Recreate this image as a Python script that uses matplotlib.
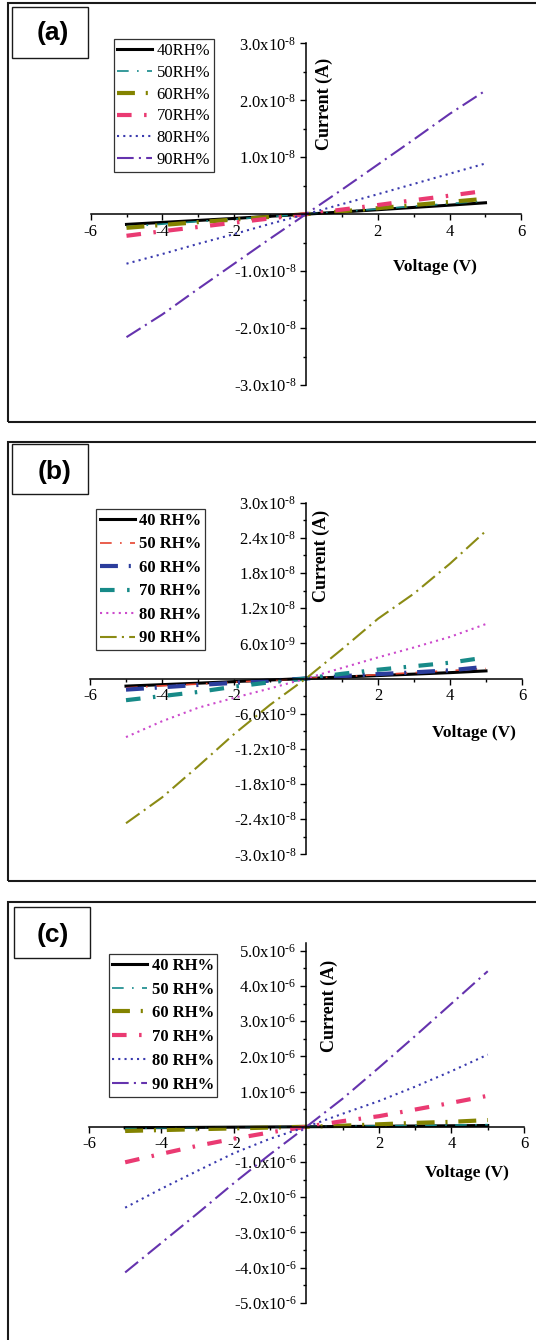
import matplotlib
import matplotlib.pyplot as plt
from matplotlib.patches import Rectangle
from matplotlib.ticker import FixedLocator

matplotlib.use("Agg")

plt.rcParams["font.family"] = ["Liberation Serif", "DejaVu Serif"]
plt.rcParams["mathtext.default"] = "regular"

W, H = 536, 1340

voltage = [-5, -4, -3, -2, -1, 0, 1, 2, 3, 4, 5]

# panel (a), current in 1e-8 A
a_40 = [-0.18, -0.145, -0.11, -0.075, -0.037, 0, 0.038, 0.078, 0.118, 0.158, 0.20]
a_50 = [-0.22, -0.175, -0.13, -0.088, -0.044, 0, 0.045, 0.09, 0.138, 0.185, 0.23]
a_60 = [-0.24, -0.19, -0.14, -0.095, -0.048, 0, 0.05, 0.105, 0.16, 0.215, 0.27]
a_70 = [-0.38, -0.30, -0.225, -0.15, -0.075, 0, 0.08, 0.16, 0.245, 0.325, 0.41]
a_80 = [-0.87, -0.70, -0.52, -0.35, -0.17, 0, 0.175, 0.35, 0.53, 0.71, 0.89]
a_90 = [-2.16, -1.76, -1.31, -0.87, -0.43, 0, 0.43, 0.87, 1.31, 1.76, 2.17]

# panel (b), current in 1e-8 A
b_40 = [-0.13, -0.105, -0.08, -0.053, -0.026, 0, 0.025, 0.05, 0.075, 0.10, 0.13]
b_50 = [-0.16, -0.125, -0.095, -0.063, -0.031, 0, 0.032, 0.065, 0.10, 0.135, 0.17]
b_60 = [-0.19, -0.15, -0.11, -0.075, -0.037, 0, 0.04, 0.075, 0.105, 0.14, 0.20]
b_70 = [-0.37, -0.30, -0.23, -0.14, -0.065, 0, 0.08, 0.15, 0.21, 0.27, 0.36]
b_80 = [-1.00, -0.73, -0.50, -0.33, -0.17, 0, 0.18, 0.36, 0.53, 0.71, 0.93]
b_90 = [-2.47, -2.03, -1.50, -0.95, -0.45, 0, 0.50, 1.02, 1.45, 1.96, 2.52]

# panel (c), current in 1e-6 A
c_40 = [-0.03, -0.024, -0.018, -0.012, -0.006, 0, 0.007, 0.014, 0.021, 0.028, 0.035]
c_50 = [-0.04, -0.032, -0.024, -0.016, -0.008, 0, 0.012, 0.024, 0.036, 0.048, 0.06]
c_60 = [-0.12, -0.095, -0.07, -0.047, -0.023, 0, 0.03, 0.07, 0.11, 0.14, 0.19]
c_70 = [-1.01, -0.77, -0.54, -0.34, -0.16, 0, 0.16, 0.30, 0.49, 0.68, 0.88]
c_80 = [-2.30, -1.76, -1.25, -0.75, -0.34, 0, 0.37, 0.73, 1.14, 1.58, 2.05]
c_90 = [-4.14, -3.30, -2.46, -1.60, -0.78, 0, 0.80, 1.68, 2.58, 3.50, 4.42]

labels_a = ["40RH%", "50RH%", "60RH%", "70RH%", "80RH%", "90RH%"]
labels_bc = ["40 RH%", "50 RH%", "60 RH%", "70 RH%", "80 RH%", "90 RH%"]

x_ticks = [-6, -4, -2, 2, 4, 6]
x_ticklabels = ["-6", "-4", "-2", "2", "4", "6"]
x_minor = [-5, -3, -1, 1, 3, 5]

# mantissa / exponent pairs for the y tick labels
a_yticks = [-3, -2, -1, 1, 2, 3]
a_ymant = ["-3.0", "-2.0", "-1.0", "1.0", "2.0", "3.0"]
a_yexp = ["-8", "-8", "-8", "-8", "-8", "-8"]
a_yminor = [-2.5, -1.5, -0.5, 0.5, 1.5, 2.5]

b_yticks = [-3.0, -2.4, -1.8, -1.2, -0.6, 0.6, 1.2, 1.8, 2.4, 3.0]
b_ymant = ["-3.0", "-2.4", "-1.8", "-1.2", "-6.0", "6.0", "1.2", "1.8", "2.4", "3.0"]
b_yexp = ["-8", "-8", "-8", "-8", "-9", "-9", "-8", "-8", "-8", "-8"]
b_yminor = [-2.7, -2.1, -1.5, -0.9, -0.3, 0.3, 0.9, 1.5, 2.1, 2.7]

c_yticks = [-5, -4, -3, -2, -1, 1, 2, 3, 4, 5]
c_ymant = ["-5.0", "-4.0", "-3.0", "-2.0", "-1.0", "1.0", "2.0", "3.0", "4.0", "5.0"]
c_yexp = ["-6"] * 10
c_yminor = [-4.5, -3.5, -2.5, -1.5, -0.5, 0.5, 1.5, 2.5, 3.5, 4.5]

style_ac = [
    ("black", 2.2, "-"),
    ("#14898a", 1.2, (0, (7, 5, 1, 5))),
    ("#838300", 3.0, (0, (4.3, 2.6, 0.5, 2.6))),
    ("#ea3a72", 3.0, (0, (3.5, 3, 0.6, 3))),
    ("#3a3aae", 1.5, (0, (1, 2))),
    ("#6533ae", 1.5, (0, (8, 2.5, 1, 2.5))),
]
style_b = [
    ("black", 2.2, "-"),
    ("#e5432f", 1.2, (0, (7, 5, 1, 5))),
    ("#2b3d9c", 3.0, (0, (4.3, 2.6, 0.5, 2.6))),
    ("#178a88", 3.0, (0, (3.5, 3, 0.6, 3))),
    ("#cc4acc", 1.5, (0, (1, 2))),
    ("#8b8b14", 1.5, (0, (8, 2.5, 1, 2.5))),
]


def px_rect(x0, y0, x1, y1):
    return [x0 / W, 1 - y1 / H, (x1 - x0) / W, (y1 - y0) / H]


def px(x, y):
    return x / W, 1 - y / H


def sci_label(mant, exp):
    # hyphen (U+2010) so the exponent keeps a short dash like the original
    return mant + "x10$^{" + exp.replace("-", "\u2010") + "}$"


fig = plt.figure(figsize=(W / 100, H / 100), dpi=100)


def draw_panel(rect, series, scale, styles, labels, bold, ylim,
               yticks, ymant, yexp, yminor, frame, tagbox, tag, tagpos,
               legpos, legspacing, xlabpos, ylabpos):
    # outer frame of the panel
    fx0, fy0, fx1, fy1 = frame
    fig.add_artist(Rectangle(px(fx0, fy1), (fx1 - fx0) / W, (fy1 - fy0) / H,
                             transform=fig.transFigure, fill=False,
                             edgecolor="#1a1a1a", linewidth=1.5))
    # label box
    tx0, ty0, tx1, ty1 = tagbox
    fig.add_artist(Rectangle(px(tx0, ty1), (tx1 - tx0) / W, (ty1 - ty0) / H,
                             transform=fig.transFigure, fill=False,
                             edgecolor="#1a1a1a", linewidth=1.0))
    fig.text(*px(*tagpos), tag, family="Liberation Sans", weight="bold",
             fontsize=19, ha="center", va="center")

    ax = fig.add_axes(rect)
    ax.patch.set_alpha(0)
    handles = []
    for vals, (color, lw, ls) in zip(series, styles):
        (ln,) = ax.plot(voltage, [v * scale for v in vals], color=color,
                        linewidth=lw, linestyle=ls)
        handles.append(ln)

    ax.set_xlim(-6, 6)
    ax.set_ylim(ylim[0] * scale, ylim[1] * scale)
    for side in ("top", "right"):
        ax.spines[side].set_visible(False)
    ax.spines["left"].set_position(("data", 0))
    ax.spines["bottom"].set_position(("data", 0))
    for side in ("left", "bottom"):
        ax.spines[side].set_linewidth(1.1)

    ax.xaxis.set_major_locator(FixedLocator(x_ticks))
    ax.set_xticklabels(x_ticklabels)
    ax.xaxis.set_minor_locator(FixedLocator(x_minor))
    ax.yaxis.set_major_locator(FixedLocator([t * scale for t in yticks]))
    ax.set_yticklabels([sci_label(m, e) for m, e in zip(ymant, yexp)])
    ax.yaxis.set_minor_locator(FixedLocator([t * scale for t in yminor]))
    ax.tick_params(which="major", direction="out", length=4, width=1,
                   labelsize=12, pad=3)
    ax.tick_params(which="minor", direction="out", length=2.5, width=1)

    weight = "bold" if bold else "normal"
    leg = ax.legend(handles, labels, loc="upper left",
                    bbox_to_anchor=px(*legpos), bbox_transform=fig.transFigure,
                    fancybox=False, framealpha=1, edgecolor="#333333",
                    borderaxespad=0, borderpad=0.22, labelspacing=legspacing,
                    handlelength=2.1, handletextpad=0.25,
                    prop={"family": "Liberation Serif", "size": 12, "weight": weight})
    leg.get_frame().set_linewidth(0.9)

    fig.text(*px(*xlabpos), "Voltage (V)", weight="bold", fontsize=12.5,
             ha="center", va="center")
    fig.text(*px(*ylabpos), "Current (A)", weight="bold", fontsize=13,
             ha="center", va="center", rotation=90)
    return ax


draw_panel(px_rect(90.6, 43.3, 521.4, 385), [a_40, a_50, a_60, a_70, a_80, a_90],
           1e-8, style_ac, labels_a, False, (-3, 3),
           a_yticks, a_ymant, a_yexp, a_yminor,
           frame=(8, 3.4, 560, 421.7), tagbox=(12, 7.3, 88, 57.7), tag="(a)",
           tagpos=(53, 33), legpos=(113.8, 39.3), legspacing=0.35,
           xlabpos=(435, 266.7), ylabpos=(324.8, 104))

draw_panel(px_rect(90, 502.7, 522, 854.3), [b_40, b_50, b_60, b_70, b_80, b_90],
           1e-8, style_b, labels_bc, True, (-3, 3),
           b_yticks, b_ymant, b_yexp, b_yminor,
           frame=(8, 441.7, 560, 880.5), tagbox=(12, 444.3, 88, 494), tag="(b)",
           tagpos=(54.7, 471.7), legpos=(96.4, 509.3), legspacing=0.45,
           xlabpos=(473.5, 732.7), ylabpos=(321, 556))

draw_panel(px_rect(88.9, 942.7, 524, 1302.7), [c_40, c_50, c_60, c_70, c_80, c_90],
           1e-6, style_ac, labels_bc, True, (-5, 5.23),
           c_yticks, c_ymant, c_yexp, c_yminor,
           frame=(7.5, 901.7, 560, 1400), tagbox=(13.7, 907.3, 89.6, 957.7), tag="(c)",
           tagpos=(53, 935), legpos=(108.7, 954), legspacing=0.47,
           xlabpos=(466.7, 1173), ylabpos=(329, 1006))

fig.savefig("out.png", dpi=100)
